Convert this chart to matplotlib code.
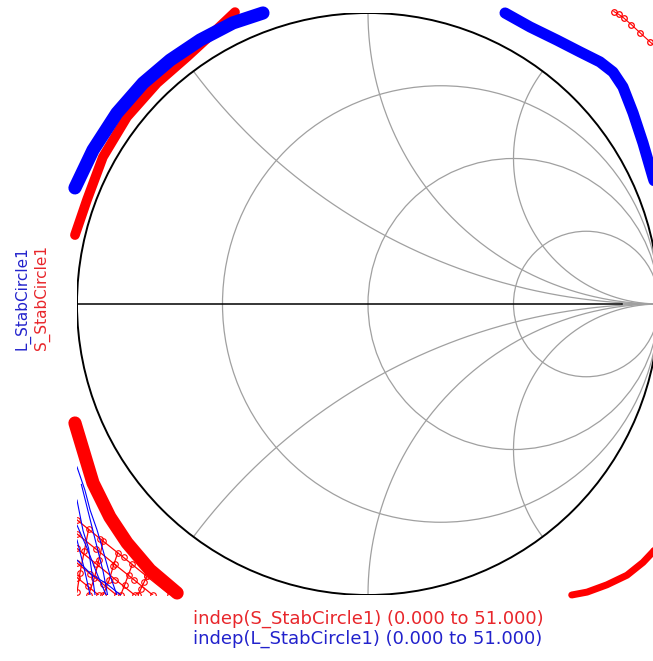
import numpy as np
import matplotlib
matplotlib.use("Agg")
import matplotlib.pyplot as plt

W, H, DPI = 653, 661, 100
RED, BLUE, GRID = "#ff0000", "#0000ff", "#a0a0a0"
TXT_RED, TXT_BLUE = "#e8262b", "#2222cc"

# Smith chart grid
R_CIRCLES = [1 / 3, 1, 3]
X_ARCS = [0.5, 1, 2]

# S_StabCircle1 visible traces (reflection coefficient, re / im)
S_TL_RE = [-1.007, -0.966, -0.911, -0.828, -0.725, -0.622, -0.533, -0.457]
S_TL_IM = [0.237, 0.357, 0.505, 0.643, 0.759, 0.849, 0.931, 1.003]
S_BL_RE = [-1.007, -0.979, -0.945, -0.887, -0.828, -0.749, -0.656]
S_BL_IM = [-0.409, -0.502, -0.615, -0.732, -0.821, -0.914, -0.993]
S_BR_RE = [0.70, 0.753, 0.821, 0.890, 0.945, 0.979, 1.0]
S_BR_IM = [-1.0, -0.99, -0.965, -0.932, -0.888, -0.852, -0.825]
S_TR_RE = [0.845, 0.862, 0.880, 0.905, 0.935, 0.970, 1.0]
S_TR_IM = [1.005, 0.995, 0.982, 0.960, 0.932, 0.900, 0.875]

# L_StabCircle1 visible traces
L_TL_RE = [-1.007, -0.945, -0.863, -0.773, -0.680, -0.577, -0.464, -0.361]
L_TL_IM = [0.399, 0.529, 0.656, 0.759, 0.838, 0.907, 0.966, 1.0]
L_TR_RE = [0.471, 0.557, 0.649, 0.729, 0.797, 0.842, 0.876, 0.911, 0.945, 0.979, 1.0]
L_TR_IM = [1.0, 0.952, 0.907, 0.866, 0.832, 0.797, 0.746, 0.656, 0.553, 0.436, 0.37]

# low-frequency circles crowding the lower-left corner
S_MESH = [
    ([-1.0, -0.92, -0.84, -0.76, -0.68], [-0.742, -0.807, -0.871, -0.936, -1.0]),
    ([-1.0, -0.935, -0.87, -0.805, -0.74], [-0.79, -0.842, -0.895, -0.947, -1.0]),
    ([-1.0, -0.934, -0.868, -0.802], [-0.84, -0.893, -0.947, -1.0]),
    ([-1.0, -0.955, -0.91, -0.864], [-0.89, -0.927, -0.963, -1.0]),
    ([-1.0, -0.963, -0.926], [-0.94, -0.97, -1.0]),
    ([-0.96, -0.975, -0.99, -1.0], [-0.774, -0.85, -0.925, -0.99]),
    ([-0.91, -0.925, -0.94, -0.96], [-0.815, -0.88, -0.94, -1.0]),
    ([-0.86, -0.875, -0.89, -0.91], [-0.855, -0.9, -0.95, -1.0]),
    ([-0.81, -0.823, -0.836, -0.85], [-0.895, -0.93, -0.965, -1.0]),
    ([-0.76, -0.77, -0.78, -0.79], [-0.936, -0.957, -0.978, -1.0]),
]
L_MESH = [
    ([-1.0, -0.973, -0.955, -0.931, -0.911, -0.887, -0.863],
     [-0.56, -0.639, -0.708, -0.777, -0.845, -0.931, -1.0]),
    ([-1.0, -0.979, -0.96, -0.955, -0.938], [-0.674, -0.78, -0.84, -0.88, -1.0]),
    ([-1.0, -0.975, -0.955], [-0.811, -0.91, -1.0]),
    ([-1.0, -0.95, -0.9, -0.85], [-0.88, -0.93, -0.96, -1.0]),
    ([-0.985, -0.96, -0.935, -0.91, -0.895], [-0.62, -0.72, -0.82, -0.92, -1.0]),
    ([-1.0, -0.965, -0.93, -0.9], [-0.76, -0.84, -0.93, -1.0]),
]

fig = plt.figure(figsize=(W / DPI, H / DPI), dpi=DPI)
ax = fig.add_axes([77 / W, 1 - 595 / H, 582 / W, 582 / H])
ax.set_xlim(-1, 1)
ax.set_ylim(-1, 1)
ax.set_aspect("equal")
ax.axis("off")

# --- grid ---
for r in R_CIRCLES:
    ax.add_patch(plt.Circle((r / (1 + r), 0), 1 / (1 + r), fill=False,
                            ec=GRID, lw=0.9, zorder=1))
rr = np.concatenate([[0], np.geomspace(1e-3, 1e4, 600)])
for x in X_ARCS:
    for sgn in (1, -1):
        g = (rr + 1j * sgn * x - 1) / (rr + 1j * sgn * x + 1)
        ax.plot(g.real, g.imag, color=GRID, lw=0.9, zorder=1)
ax.plot([0.873, 1.0], [0, 0], color=GRID, lw=1.2, zorder=1)
ax.plot([-1.0, 0.873], [0, 0], color="black", lw=1.1, zorder=2)
ax.add_patch(plt.Circle((0, 0), 1, fill=False, ec="black", lw=1.4, zorder=2))

# --- S_StabCircle1 ---
for re, im, lw in [(S_TL_RE, S_TL_IM, 7), (S_BL_RE, S_BL_IM, 9.5), (S_BR_RE, S_BR_IM, 5)]:
    ax.plot(re, im, color=RED, lw=lw, solid_capstyle="round",
            solid_joinstyle="round", clip_on=False, zorder=3)
ax.plot(S_TR_RE, S_TR_IM, color=RED, lw=0.8, marker="o", ms=4, mfc="none",
        mew=0.9, clip_on=False, zorder=3)
for re, im in S_MESH:
    ax.plot(re, im, color=RED, lw=0.9, marker="o", ms=4, mfc="none",
            mew=0.8, zorder=3)

# --- L_StabCircle1 ---
for re, im, lw in [(L_TL_RE, L_TL_IM, 9.5), (L_TR_RE, L_TR_IM, 8)]:
    ax.plot(re, im, color=BLUE, lw=lw, solid_capstyle="round",
            solid_joinstyle="round", clip_on=False, zorder=4)
for re, im in L_MESH:
    ax.plot(re, im, color=BLUE, lw=0.8, zorder=4)

# --- labels ---
fig.text(22 / W, 1 - 298 / H, "L_StabCircle1", color=TXT_BLUE, fontsize=11,
         rotation=90, ha="center", va="center")
fig.text(42 / W, 1 - 298 / H, "S_StabCircle1", color=TXT_RED, fontsize=11,
         rotation=90, ha="center", va="center")
fig.text(368 / W, 1 - 619 / H, "indep(S_StabCircle1) (0.000 to 51.000)",
         color=TXT_RED, fontsize=13, ha="center", va="center")
fig.text(368 / W, 1 - 639 / H, "indep(L_StabCircle1) (0.000 to 51.000)",
         color=TXT_BLUE, fontsize=13, ha="center", va="center")

fig.savefig("out.png", dpi=DPI)
